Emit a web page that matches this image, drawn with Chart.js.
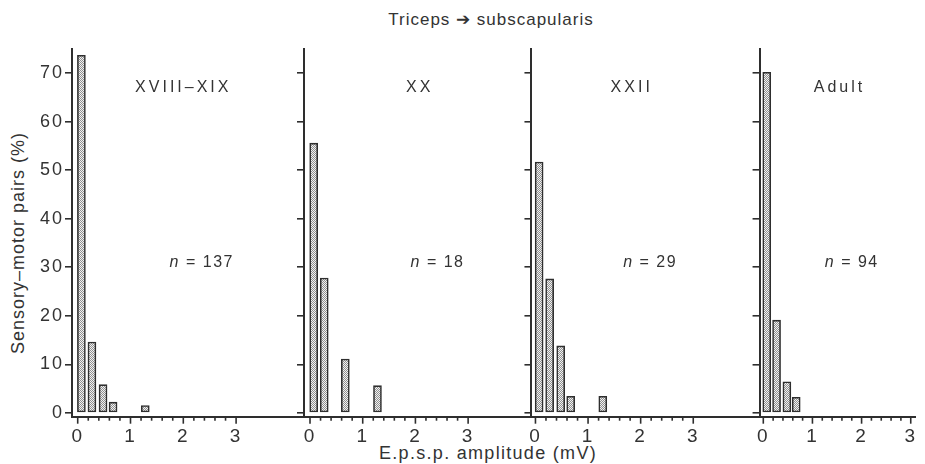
<!DOCTYPE html>
<html><head><meta charset="utf-8">
<script src="https://cdn.jsdelivr.net/npm/chart.js@4/dist/chart.umd.min.js"></script>
<style>
html,body{margin:0;padding:0;background:#fff;}
#wrap{position:relative;width:925px;height:464px;overflow:hidden;font-family:"Liberation Sans",Arial,sans-serif;color:#333;}
canvas{position:absolute;top:0;}
.t{position:absolute;white-space:nowrap;font-size:17px;letter-spacing:1px;}
</style></head><body>
<div id="wrap">
<div class="t" style="left:491px;top:9px;transform:translateX(-50%);">Triceps ➔ subscapularis</div>
<div class="t" style="left:488px;top:443px;font-size:18px;letter-spacing:1.3px;transform:translateX(-50%);">E.p.s.p. amplitude (mV)</div>
<div class="t" style="left:18px;top:243px;font-size:18px;transform:translate(-50%,-50%) rotate(-90deg);">Sensory–motor pairs (%)</div>
<canvas id="c1" width="304" height="464" style="left:0px"></canvas>
<canvas id="c2" width="237" height="464" style="left:294px"></canvas>
<canvas id="c3" width="238" height="464" style="left:521px"></canvas>
<canvas id="c4" width="176" height="464" style="left:749px"></canvas>
</div>
<script>
// ---- data ----
const binCenters = [0.07, 0.27, 0.48, 0.67, 1.28];      // E.p.s.p. amplitude bins (mV)
const pctXVIII_XIX = [73.7, 14.6, 5.8, 2.2, 1.5];
const pctXX = [55.6, 27.8, null, 11.1, 5.6];
const pctXXII = [51.7, 27.6, 13.8, 3.4, 3.4];
const pctAdult = [70.2, 19.1, 6.4, 3.2, null];
const stageLabels = ['XVIII–XIX', 'XX', 'XXII', 'Adult'];
const nValues = [137, 18, 29, 94];
const yTickValues = [0, 10, 20, 30, 40, 50, 60, 70];
const xMajorTicks = [0, 1, 2, 3];

const INK = '#2e2e2e', TXT = '#333333', FAM = '"Liberation Sans", Arial, sans-serif';

function stipple() {
  const c = document.createElement('canvas'); c.width = c.height = 2;
  const g = c.getContext('2d');
  g.fillStyle = '#f2f2f2'; g.fillRect(0, 0, 2, 2);
  g.fillStyle = '#909090'; g.fillRect(0, 0, 1, 1); g.fillRect(1, 1, 1, 1);
  return g.createPattern(c, 'repeat');
}
const isInt = v => Math.abs(v - Math.round(v)) < 1e-6;

const spacing = {
  id: 'spacing',
  beforeDraw(chart) { chart.ctx.letterSpacing = '2px'; }
};
const xTickMarks = {
  id: 'xTickMarks',
  afterDraw(chart) {
    const s = chart.scales.x, ctx = chart.ctx;
    ctx.save(); ctx.strokeStyle = INK; ctx.lineWidth = 1.6;
    s.ticks.forEach(t => {
      const px = s.getPixelForValue(t.value);
      ctx.beginPath(); ctx.moveTo(px, s.top); ctx.lineTo(px, s.top + (isInt(t.value) ? 7 : 4)); ctx.stroke();
    });
    ctx.restore();
  }
};
const panelText = {
  id: 'panelText',
  afterDraw(chart, args, o) {
    const {x, y} = chart.scales, ctx = chart.ctx;
    ctx.save(); ctx.fillStyle = TXT; ctx.textBaseline = 'middle';
    ctx.font = '16px ' + FAM; ctx.letterSpacing = '3px'; ctx.textAlign = 'center';
    ctx.fillText(o.stage, x.getPixelForValue(o.stageAt[0]), y.getPixelForValue(o.stageAt[1]));
    ctx.letterSpacing = '1.5px'; ctx.textAlign = 'left';
    ctx.font = 'italic 16px ' + FAM; const w1 = ctx.measureText('n').width;
    ctx.font = '16px ' + FAM; const rest = ' = ' + o.n; const w2 = ctx.measureText(rest).width;
    const cx = x.getPixelForValue(o.nAt[0]), cy = y.getPixelForValue(o.nAt[1]);
    const sx = cx - (w1 + w2) / 2;
    ctx.font = 'italic 16px ' + FAM; ctx.fillText('n', sx, cy);
    ctx.font = '16px ' + FAM; ctx.fillText(rest, sx + w1, cy);
    ctx.restore();
  }
};

const panels = [
  {id: 'c1', vals: pctXVIII_XIX, stage: 0, yw: 72, xmin: -0.108, xmax: 4.286, labels: true, stageAt: [2.0, 67], nAt: [2.35, 31]},
  {id: 'c2', vals: pctXX, stage: 1, yw: 10, xmin: -0.114, xmax: 4.193, labels: false, stageAt: [2.08, 67], nAt: [2.42, 31]},
  {id: 'c3', vals: pctXXII, stage: 2, yw: 10, xmin: -0.076, xmax: 4.25, labels: false, stageAt: [1.83, 67], nAt: [2.18, 31]},
  {id: 'c4', vals: pctAdult, stage: 3, yw: 10, xmin: -0.076, xmax: 3.098, labels: false, stageAt: [1.55, 67], nAt: [1.8, 31]}
];

panels.forEach(p => {
  const pts = binCenters.map((x, i) => ({x, y: p.vals[i]})).filter(d => d.y != null);
  new Chart(document.getElementById(p.id), {
    type: 'bar',
    data: {datasets: [{data: pts, backgroundColor: stipple(), borderColor: INK, borderWidth: 1.6,
      borderSkipped: false, barThickness: 8}]},
    options: {
      responsive: false, animation: false,
      layout: {padding: {top: 49, bottom: 7.3, left: 0, right: 0}},
      plugins: {legend: {display: false}, tooltip: {enabled: false},
        panelText: {stage: stageLabels[p.stage], n: nValues[p.stage], stageAt: p.stageAt, nAt: p.nAt}},
      scales: {
        x: {type: 'linear', min: p.xmin, max: p.xmax, offset: false,
          grid: {display: false, drawTicks: false},
          border: {display: true, color: INK, width: 2},
          afterBuildTicks: s => {
            const t = []; for (let i = 0; i <= xMajorTicks[xMajorTicks.length - 1] * 5; i++) t.push({value: i / 5});
            s.ticks = t;
          },
          ticks: {autoSkip: false, maxRotation: 0, padding: 9, color: TXT, font: {size: 19, family: FAM},
            callback: v => isInt(v) && xMajorTicks.includes(Math.round(v)) ? String(Math.round(v)) : ''},
          afterFit: s => { s.height = 40; }
        },
        y: {min: -0.8, max: 75,
          afterBuildTicks: s => { s.ticks = yTickValues.map(v => ({value: v})); },
          grid: {drawOnChartArea: false, drawTicks: true, tickLength: 7, color: INK, lineWidth: 1.6},
          border: {display: true, color: INK, width: 2},
          ticks: {display: p.labels, padding: 1, color: TXT, font: {size: 18, family: FAM}},
          afterFit: s => { s.width = p.yw; }
        }
      }
    },
    plugins: [spacing, xTickMarks, panelText]
  });
});
</script>
</body></html>
